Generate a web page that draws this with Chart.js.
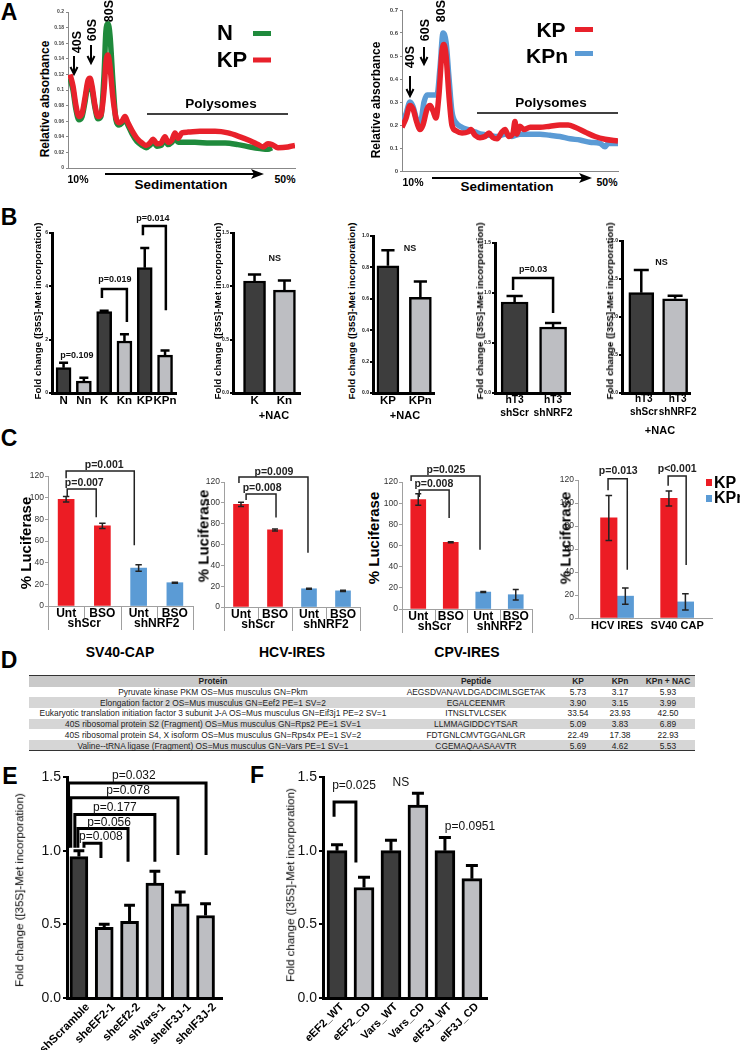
<!DOCTYPE html>
<html lang="en">
<head>
<meta charset="UTF-8">
<title>Translation figure</title>
<script src="https://cdn.jsdelivr.net/npm/chart.js"></script>
<style>
    body { margin: 0; background: #fff; font-family: "Liberation Sans", Arial, sans-serif; color: #000; }
    #fig { position: relative; width: 740px; height: 1050px; overflow: hidden; background: #fff; }
    #fig canvas { position: absolute; }
    .t { position: absolute; white-space: nowrap; line-height: 1; }
    .row { position: absolute; left: 29px; width: 666px; height: 10.7px; }
    svg { position: absolute; left: 0; top: 0; }
</style>
</head>
<body>
<div id="fig">
<svg width="740" height="1050">
    <!-- panel A arrows, lines and legend swatches -->
    <g stroke="#000" stroke-width="2" fill="none">
        <line x1="74" y1="56" x2="74" y2="73"/><polyline points="70.5,67 74,74 77.5,67"/>
        <line x1="91" y1="45" x2="91" y2="62"/><polyline points="87.5,56 91,63 94.5,56"/>
        <line x1="410" y1="76" x2="410" y2="95"/><polyline points="406.5,89 410,96 413.5,89"/>
        <line x1="424" y1="47" x2="424" y2="63"/><polyline points="420.5,57 424,64 427.5,57"/>
        <line x1="105" y1="174" x2="255" y2="174"/>
        <line x1="432" y1="178" x2="583" y2="178"/>
    </g>
    <polygon points="264,174 251,169 254,174 251,179" fill="#000"/>
    <polygon points="592,178 579,173 582,178 579,183" fill="#000"/>
    <line x1="147" y1="114" x2="288" y2="114" stroke="#000" stroke-width="1.5"/>
    <line x1="477" y1="113" x2="618" y2="113" stroke="#000" stroke-width="1.5"/>
    <rect x="253" y="31" width="18" height="5" fill="#1f8a3c"/>
    <rect x="253" y="57.5" width="18" height="5" fill="#e8212b"/>
    <rect x="575" y="27" width="18" height="5" fill="#e8212b"/>
    <rect x="575" y="51" width="18" height="5" fill="#5b9bd5"/>
    <rect x="706" y="479" width="6" height="7" fill="#ec1c24"/>
    <rect x="706" y="495" width="6" height="7" fill="#5b9bd5"/>
</svg>
</div>
<script>
// ---------- data ----------
// Panel A: polysome profiles, x = position along gradient (0-100), y = relative absorbance
const a1KpX = [0.9, 2.2, 3.5, 4.8, 6.2, 7.5, 8.8, 9.7, 10.6, 11.9, 13.2, 14.5, 15.9, 16.7, 17.6, 18.5, 19.8, 21.1, 22.5, 23.8, 25.1, 26.4, 28.2, 30.4, 32.6, 34.4, 36.1, 37.4, 39.2, 41, 42.7, 44.1, 45.8, 47.1, 48.5, 50.2, 52.9, 58.1, 64.8, 70.5, 75.8, 80.2, 83.7, 85.9, 88.1, 89.9, 92.5, 96.9, 100];
const a1KpY = [0.12, 0.105, 0.08, 0.066, 0.07, 0.09, 0.112, 0.115, 0.105, 0.08, 0.066, 0.068, 0.1, 0.135, 0.145, 0.13, 0.09, 0.065, 0.058, 0.06, 0.066, 0.058, 0.048, 0.038, 0.032, 0.029, 0.032, 0.037, 0.031, 0.032, 0.04, 0.033, 0.036, 0.045, 0.038, 0.045, 0.046, 0.047, 0.047, 0.045, 0.04, 0.035, 0.03, 0.027, 0.031, 0.03, 0.026, 0.027, 0.029];
const a1NX = [0.9, 2.2, 3.5, 4.8, 6.2, 7.5, 8.8, 9.7, 10.6, 11.9, 13.2, 14.5, 15.9, 16.7, 17.6, 18.5, 19.8, 21.1, 22.5, 23.8, 25.1, 26.4, 28.2, 30.4, 32.6, 34.4, 36.1, 37.4, 39.2, 41, 42.7, 44.1, 45.8, 47.1, 48.5, 50.2, 55.9, 62.6, 69.2, 74.9, 80.2, 84.6, 88.1, 89.9];
const a1NY = [0.115, 0.1, 0.075, 0.062, 0.066, 0.085, 0.108, 0.112, 0.1, 0.077, 0.063, 0.066, 0.12, 0.175, 0.185, 0.17, 0.11, 0.062, 0.055, 0.058, 0.063, 0.055, 0.044, 0.034, 0.029, 0.026, 0.029, 0.034, 0.028, 0.029, 0.036, 0.03, 0.033, 0.038, 0.033, 0.033, 0.033, 0.032, 0.032, 0.03, 0.027, 0.025, 0.024, 0.026];
const a2KpX = [0, 1.9, 3.7, 5.1, 6.9, 8.3, 9.7, 11.6, 13, 14.4, 15.7, 17.1, 18.5, 19.4, 20.4, 21.8, 23.1, 25, 27.8, 30.6, 31.9, 33.8, 36.1, 38.4, 40.3, 42.1, 44, 46.3, 47.7, 49.5, 51.4, 52.3, 53.2, 54.6, 56.5, 59.3, 63.9, 68.5, 73.1, 76.9, 80.1, 84.7, 89.4, 94, 100];
const a2KpY = [0.19, 0.23, 0.285, 0.27, 0.21, 0.18, 0.2, 0.27, 0.285, 0.26, 0.23, 0.33, 0.52, 0.55, 0.5, 0.32, 0.2, 0.175, 0.165, 0.17, 0.18, 0.155, 0.145, 0.15, 0.165, 0.145, 0.14, 0.17, 0.18, 0.15, 0.165, 0.215, 0.16, 0.195, 0.18, 0.19, 0.19, 0.195, 0.2, 0.2, 0.19, 0.17, 0.15, 0.138, 0.13];
const a2KpnX = [0, 1.9, 3.7, 5.1, 6.9, 8.3, 10.2, 11.6, 14.4, 16.2, 17.6, 19, 20.4, 21.8, 23.1, 25, 27.8, 30.6, 33.8, 37, 40.7, 44, 47.7, 50.9, 54.6, 59.3, 63.9, 68.5, 73.1, 77.8, 82.4, 87, 91.7, 94, 95.4, 100];
const a2KpnY = [0.2, 0.25, 0.3, 0.28, 0.22, 0.2, 0.3, 0.33, 0.33, 0.33, 0.45, 0.6, 0.56, 0.4, 0.26, 0.21, 0.19, 0.18, 0.17, 0.16, 0.155, 0.15, 0.16, 0.15, 0.16, 0.16, 0.16, 0.155, 0.15, 0.14, 0.135, 0.125, 0.12, 0.105, 0.12, 0.12];

// Panel B: fold change ([35S]-Met incorporation), mean and SEM
const b1Cats = ['N', 'Nn', 'K', 'Kn', 'KP', 'KPn'];
const b1Vals = [0.95, 0.45, 3.05, 1.95, 4.7, 1.42];
const b1Sem = [0.18, 0.12, 0.03, 0.25, 0.74, 0.17];
const b2Cats = ['K', 'Kn'];
const b2Vals = [1.05, 0.965];
const b2Sem = [0.06, 0.09];
const b3Cats = ['KP', 'KPn'];
const b3Vals = [0.81, 0.61];
const b3Sem = [0.1, 0.1];
const b4Cats = [['hT3', 'shScr'], ['hT3', 'shNRF2']];
const b4Vals = [0.91, 0.66];
const b4Sem = [0.06, 0.04];
const b5Cats = [['hT3', 'shScr'], ['hT3', 'shNRF2']];
const b5Vals = [1.32, 1.24];
const b5Sem = [0.3, 0.04];

// Panel C: % luciferase
const cCats = ['Unt', 'BSO', 'Unt', 'BSO'];
const c1Vals = [98.5, 74, 35, 21.5];
const c1Sem = [2.5, 2.5, 3, 0.5];
const c2Vals = [98.5, 74, 17.5, 15.5];
const c2Sem = [2, 1, 0.5, 0.5];
const c3Vals = [103.5, 63, 16, 13.5];
const c3Sem = [5.5, 0.5, 0.5, 5];
const c4Cats = ['HCV IRES', 'SV40 CAP'];
const c4Kp = [87, 104];
const c4KpSem = [19.5, 6.5];
const c4Kpn = [19, 14];
const c4KpnSem = [7, 7];

// Panel D: peptide table
const dProteins = ['Pyruvate kinase PKM OS=Mus musculus GN=Pkm',
    'Elongation factor 2 OS=Mus musculus GN=Eef2 PE=1 SV=2',
    'Eukaryotic translation initiation factor 3 subunit J-A OS=Mus musculus GN=Eif3j1 PE=2 SV=1',
    '40S ribosomal protein S2 (Fragment) OS=Mus musculus GN=Rps2 PE=1 SV=1',
    '40S ribosomal protein S4, X isoform OS=Mus musculus GN=Rps4x PE=1 SV=2',
    'Valine--tRNA ligase (Fragment) OS=Mus musculus GN=Vars PE=1 SV=1'];
const dPeptides = ['AEGSDVANAVLDGADCIMLSGETAK', 'EGALCEENMR', 'ITNSLTVLCSEK', 'LLMMAGIDDCYTSAR', 'FDTGNLCMVTGGANLGR', 'CGEMAQAASAAVTR'];
const dKP = ['5.73', '3.90', '33.54', '5.09', '22.49', '5.69'];
const dKPn = ['3.17', '3.15', '23.93', '3.83', '17.38', '4.62'];
const dKPnNac = ['5.93', '3.99', '42.50', '6.89', '22.93', '5.53'];

// Panels E, F
const eCats = ['shScramble', 'sheEF2-1', 'sheEf2-2', 'shVars-1', 'sheIF3J-1', 'sheIF3J-2'];
const eVals = [0.96, 0.48, 0.52, 0.78, 0.64, 0.56];
const eSem = [0.04, 0.02, 0.11, 0.08, 0.08, 0.08];
const fCats = ['eEF2_WT', 'eEF2_CD', 'Vars_WT', 'Vars_CD', 'eIF3J_WT', 'eIF3J_CD'];
const fVals = [1.0, 0.75, 1.0, 1.31, 1.0, 0.81];
const fSem = [0.04, 0.07, 0.07, 0.08, 0.09, 0.09];

// ---------- setup ----------
const FONT = '"Liberation Sans", Arial, sans-serif';
Chart.defaults.font.family = FONT;
Chart.defaults.animation = false;
Chart.defaults.responsive = false;
Chart.defaults.color = '#000';
Chart.defaults.plugins.legend.display = false;
Chart.defaults.plugins.tooltip.enabled = false;

const fig = document.getElementById('fig');
const DARK = '#3d3d3d', LIGHT = '#bdbec2', RED = '#ec1c24', BLUE = '#5b9bd5';

function label(x, y, s, css, rot, align) {
    const d = document.createElement('div');
    d.className = 't';
    d.textContent = s;
    d.style.cssText += css;
    d.style.left = x + 'px';
    d.style.top = y + 'px';
    const tx = align === 'l' ? '0' : '-50%';
    d.style.transform = 'translate(' + tx + ',-50%)' + (rot ? ' rotate(' + rot + 'deg)' : '');
    fig.appendChild(d);
}

// canvas whose chart area lands exactly on box
function canvasAt(box, pad) {
    const c = document.createElement('canvas');
    const w = box.r - box.l + pad.l + pad.r, h = box.b - box.t + pad.t + pad.b;
    c.width = w; c.height = h;
    c.style.left = (box.l - pad.l) + 'px';
    c.style.top = (box.t - pad.t) + 'px';
    c.style.width = w + 'px'; c.style.height = h + 'px';
    fig.appendChild(c);
    return c;
}
const fixX = h => s => { s.height = h; s.paddingLeft = 0; s.paddingRight = 0; };
const fixY = w => s => { s.width = w; s.paddingTop = 0; s.paddingBottom = 0; };

// error bars, brackets, p-values, category separators
const annot = {
    id: 'annot',
    afterDatasetsDraw(chart, args, o) {
        const ctx = chart.ctx, xs = chart.scales.x, ys = chart.scales.y;
        ctx.save();
        ctx.strokeStyle = o.color || '#000';
        chart.data.datasets.forEach((ds, di) => {
            if (!ds.err) return;
            const meta = chart.getDatasetMeta(di);
            meta.data.forEach((bar, i) => {
                const v = meta.controller.getParsed(i).y, e = ds.err[i];
                const top = ys.getPixelForValue(v + e);
                const bot = ys.getPixelForValue(o.twoSided ? v - e : v);
                const hw = bar.width * (o.cap || 0.3);
                ctx.lineWidth = o.errWidth || 2;
                ctx.beginPath();
                ctx.moveTo(bar.x, bot); ctx.lineTo(bar.x, top);
                ctx.moveTo(bar.x - hw, top); ctx.lineTo(bar.x + hw, top);
                if (o.twoSided) { ctx.moveTo(bar.x - hw, bot); ctx.lineTo(bar.x + hw, bot); }
                ctx.stroke();
            });
        });
        ctx.lineWidth = o.bracketWidth || 2;
        ctx.lineJoin = 'miter';
        (o.brackets || []).forEach(b => {
            const xa = xs.getPixelForValue(b.a), xb = xs.getPixelForValue(b.b), y = ys.getPixelForValue(b.y);
            ctx.beginPath();
            ctx.moveTo(xa, ys.getPixelForValue(b.ya));
            ctx.lineTo(xa, y); ctx.lineTo(xb, y);
            ctx.lineTo(xb, ys.getPixelForValue(b.yb));
            ctx.stroke();
        });
        ctx.fillStyle = o.noteColor || '#000';
        ctx.font = o.noteFont || 'bold 10px ' + FONT;
        ctx.textAlign = 'center';
        ctx.textBaseline = 'middle';
        (o.notes || []).forEach(n => ctx.fillText(n.t, xs.getPixelForValue(n.x), ys.getPixelForValue(n.y)));
        const bottom = chart.chartArea.bottom;
        ctx.strokeStyle = '#a0a0a0';
        ctx.lineWidth = 1;
        (o.seps || []).forEach(s => {
            const x = Math.round(xs.getPixelForValue(s[0])) + 0.5;
            ctx.beginPath(); ctx.moveTo(x, bottom); ctx.lineTo(x, bottom + s[1]); ctx.stroke();
        });
        ctx.fillStyle = '#000';
        ctx.font = 'bold 12px ' + FONT;
        (o.groups || []).forEach(g => ctx.fillText(g[1], xs.getPixelForValue(g[0]), bottom + 18));
        ctx.restore();
    }
};

// ---------- panel A ----------
function profile(box, pad, ymax, sets, tickSize) {
    new Chart(canvasAt(box, pad), {
        type: 'line',
        data: {
            datasets: sets.map(s => ({
                data: s.x.map((x, i) => ({ x: x, y: s.y[i] })),
                borderColor: s.color, borderWidth: 5.5, pointRadius: 0,
                cubicInterpolationMode: 'monotone', fill: false
            }))
        },
        options: {
            layout: { padding: { left: 0, top: pad.t, right: pad.r, bottom: 0 } },
            scales: {
                x: {
                    type: 'linear', min: 0, max: 100,
                    ticks: { display: false },
                    grid: { display: false, drawTicks: false },
                    border: { color: '#888', width: 1 },
                    afterFit: fixX(pad.b)
                },
                y: {
                    min: 0, max: ymax,
                    ticks: { stepSize: ymax > 0.5 ? 0.1 : 0.02, font: { size: tickSize, weight: 'bold' }, color: '#444', padding: 2,
                        callback: v => +v.toFixed(2) },
                    grid: { drawOnChartArea: false, tickLength: 2, color: '#888' },
                    border: { color: '#888', width: 1 },
                    afterFit: fixY(pad.l)
                }
            }
        }
    });
}

profile({ l: 68, t: 12, r: 295, b: 168 }, { l: 16, t: 6, r: 4, b: 3 }, 0.2,
    [{ x: a1KpX, y: a1KpY, color: '#e8212b' }, { x: a1NX, y: a1NY, color: '#1f8a3c' }], 5);
profile({ l: 402, t: 10, r: 618, b: 171 }, { l: 20, t: 6, r: 4, b: 3 }, 0.7,
    [{ x: a2KpX, y: a2KpY, color: '#e8212b' }, { x: a2KpnX, y: a2KpnY, color: '#5b9bd5' }], 6);

// ---------- GraphPad style bars (B, E, F) ----------
function prism(box, pad, o) {
    new Chart(canvasAt(box, pad), {
        type: 'bar',
        data: {
            datasets: [{
                data: o.vals.map((v, i) => ({ x: i, y: v })),
                backgroundColor: o.fill, borderColor: '#000', borderWidth: o.bw,
                barThickness: o.bar, err: o.sem
            }]
        },
        options: {
            layout: { padding: { left: 0, top: pad.t, right: pad.r, bottom: 0 } },
            plugins: {
                annot: { cap: 0.3, errWidth: o.bw, bracketWidth: o.bw, brackets: o.brackets, notes: o.notes, noteFont: o.noteFont, noteColor: '#111' }
            },
            scales: {
                x: {
                    type: 'linear', min: o.xmin, max: o.xmax, offset: false,
                    grid: { display: false, drawTicks: false },
                    border: { color: '#000', width: o.axw },
                    ticks: { stepSize: 1, includeBounds: false, autoSkip: false, maxRotation: o.rot, minRotation: o.rot,
                        padding: o.tpad, labelOffset: o.lofs || 0,
                        font: { size: o.xfs, weight: 'bold', lineHeight: 1.3 }, color: '#000',
                        callback: v => o.cats[v] },
                    afterFit: fixX(pad.b)
                },
                y: {
                    min: 0, max: o.ymax,
                    ticks: { stepSize: o.step, font: { size: o.yfs, weight: o.yfw }, color: '#111', padding: o.ypad,
                        callback: v => v.toFixed(o.dec) },
                    grid: { drawOnChartArea: false, tickLength: o.tl, color: '#000', lineWidth: 2 },
                    border: { color: '#000', width: o.axw },
                    afterFit: fixY(pad.l)
                }
            }
        },
        plugins: [annot]
    });
}

const bBase = { bw: 2.5, axw: 3, rot: 0, tpad: 0, xfs: 11.5, yfs: 5, yfw: 'bold', ypad: 1, tl: 3, noteFont: 'bold 9px ' + FONT };
const bPad = { l: 14, t: 22, r: 14, b: 40 };

prism({ l: 52, t: 233, r: 176, b: 393 }, bPad, Object.assign({}, bBase, {
    cats: b1Cats, vals: b1Vals, sem: b1Sem, fill: [DARK, LIGHT, DARK, LIGHT, DARK, LIGHT],
    xmin: -0.57, xmax: 5.54, ymax: 6, step: 2, dec: 0, bar: 15,
    brackets: [{ a: 1.89, b: 3.12, y: 3.9, ya: 3.56, yb: 2.66 }, { a: 3.91, b: 5.04, y: 6.26, ya: 5.92, yb: 3.1 }],
    notes: [{ x: 0.66, y: 1.39, t: 'p=0.109' }, { x: 2.53, y: 4.26, t: 'p=0.019' }, { x: 4.4, y: 6.53, t: 'p=0.014' }]
}));
prism({ l: 233, t: 233, r: 300, b: 393 }, bPad, Object.assign({}, bBase, {
    cats: b2Cats, vals: b2Vals, sem: b2Sem, fill: [DARK, LIGHT],
    xmin: -0.72, xmax: 1.52, ymax: 1.5, step: 0.5, dec: 1, bar: 22,
    notes: [{ x: 0.68, y: 1.26, t: 'NS' }]
}));
prism({ l: 373, t: 236, r: 434, b: 393 }, bPad, Object.assign({}, bBase, {
    cats: b3Cats, vals: b3Vals, sem: b3Sem, fill: [DARK, LIGHT],
    xmin: -0.46, xmax: 1.42, ymax: 1, step: 0.2, dec: 1, bar: 22,
    notes: [{ x: 0.68, y: 0.92, t: 'NS' }]
}));
prism({ l: 495, t: 243, r: 570, b: 393 }, bPad, Object.assign({}, bBase, {
    cats: b4Cats, vals: b4Vals, sem: b4Sem, fill: [DARK, LIGHT], xfs: 10.3,
    xmin: -0.51, xmax: 1.44, ymax: 1.5, step: 0.5, dec: 1, bar: 27,
    brackets: [{ a: -0.04, b: 1.0, y: 1.15, ya: 1.03, yb: 0.8 }],
    notes: [{ x: 0.48, y: 1.23, t: 'p=0.03' }]
}));
prism({ l: 622, t: 241, r: 690, b: 393 }, bPad, Object.assign({}, bBase, {
    cats: b5Cats, vals: b5Vals, sem: b5Sem, fill: [DARK, LIGHT], xfs: 10, lofs: 2.5,
    xmin: -0.57, xmax: 1.44, ymax: 2, step: 0.5, dec: 1, bar: 25,
    notes: [{ x: 0.6, y: 1.72, t: 'NS' }]
}));

const efBase = { bw: 3, axw: 3, rot: 45, tpad: 2, xfs: 12, yfs: 14, yfw: 'normal', ypad: 2, tl: 4, dec: 1, ymax: 1.5, step: 0.5, noteFont: '12px ' + FONT };
prism({ l: 67, t: 777, r: 222, b: 998 }, { l: 45, t: 15, r: 5, b: 52 }, Object.assign({}, efBase, {
    cats: eCats, vals: eVals, sem: eSem, fill: [DARK, LIGHT, LIGHT, LIGHT, LIGHT, LIGHT],
    xmin: -0.47, xmax: 5.65, bar: 18, lofs: 9, xfs: 11.5,
    brackets: [
        { a: 0.2, b: 0.87, y: 1.05, ya: 1.02, yb: 0.95 },
        { a: -0.04, b: 1.94, y: 1.15, ya: 1.02, yb: 0.925 },
        { a: -0.16, b: 3.0, y: 1.245, ya: 1.02, yb: 0.925 },
        { a: -0.32, b: 3.91, y: 1.36, ya: 1.02, yb: 0.97 },
        { a: -0.41, b: 5.02, y: 1.46, ya: 1.02, yb: 0.97 }
    ],
    notes: [
        { x: 2.17, y: 1.51, t: 'p=0.032' }, { x: 1.94, y: 1.41, t: 'p=0.078' }, { x: 1.42, y: 1.29, t: 'p=0.177' },
        { x: 1.19, y: 1.19, t: 'p=0.056' }, { x: 0.87, y: 1.095, t: 'p=0.008' }
    ]
}));
prism({ l: 323, t: 777, r: 487, b: 998 }, { l: 40, t: 15, r: 28, b: 52 }, Object.assign({}, efBase, {
    cats: fCats, vals: fVals, sem: fSem, fill: [DARK, LIGHT, DARK, LIGHT, DARK, LIGHT],
    xmin: -0.52, xmax: 5.56, bar: 20, xfs: 11, lofs: 5,
    brackets: [{ a: -0.11, b: 0.7, y: 1.33, ya: 1.23, yb: 0.92 }],
    notes: [{ x: 0.63, y: 1.44, t: 'p=0.025' }, { x: 2.37, y: 1.46, t: 'NS' }, { x: 4.93, y: 1.16, t: 'p=0.0951' }]
}));

// ---------- Excel style bars (C) ----------
function excel(box, pad, o) {
    const linear = o.xmin !== undefined;
    const x = {
        grid: { display: false, drawTicks: false },
        border: { color: '#a0a0a0', width: 1 },
        ticks: { font: { size: o.xfs, weight: 'bold' }, color: '#000', padding: o.tpad, autoSkip: false, maxRotation: 0 },
        afterFit: fixX(pad.b)
    };
    if (linear) {
        Object.assign(x, { type: 'linear', min: o.xmin, max: o.xmax, offset: false });
        Object.assign(x.ticks, { stepSize: 1, includeBounds: false, callback: v => o.cats[v] });
    }
    new Chart(canvasAt(box, pad), {
        type: 'bar',
        data: {
            labels: linear ? undefined : o.cats,
            datasets: o.sets.map(s => ({
                data: linear ? s.vals.map((v, i) => ({ x: i, y: v })) : s.vals,
                backgroundColor: s.color, barThickness: o.bar, err: s.sem
            }))
        },
        options: {
            layout: { padding: { left: 0, top: pad.t, right: pad.r, bottom: 0 } },
            plugins: {
                annot: { twoSided: true, cap: 0.2, errWidth: 1.5, bracketWidth: 1.5, color: '#222',
                    brackets: o.brackets, notes: o.notes, noteFont: 'bold 10.5px ' + FONT, noteColor: '#222',
                    seps: o.seps, groups: o.groups }
            },
            scales: {
                x: x,
                y: {
                    min: 0, max: 120,
                    ticks: { stepSize: 20, font: { size: 8.5 }, color: '#333', padding: 1 },
                    grid: { drawOnChartArea: false, tickLength: 3, color: '#a0a0a0' },
                    border: { color: '#a0a0a0', width: 1 },
                    afterFit: fixY(pad.l)
                }
            }
        },
        plugins: [annot]
    });
}

const cPad = { l: 20, t: 32, r: 4, b: 30 };
const cSeps = [[-0.5, 24], [0.5, 12], [1.5, 24], [2.5, 12], [3.5, 24]];
const cGroups = [[0.5, 'shScr'], [2.5, 'shNRF2']];
excel({ l: 48, t: 476, r: 193, b: 606 }, cPad, {
    cats: cCats, bar: 16, xfs: 12, tpad: 0, seps: cSeps, groups: cGroups,
    sets: [{ vals: c1Vals, sem: c1Sem, color: [RED, RED, BLUE, BLUE] }],
    brackets: [{ a: 0.03, b: 0.83, y: 108, ya: 101.5, yb: 82 }, { a: 0, b: 1.88, y: 124.6, ya: 118, yb: 56 }],
    notes: [{ x: 0.5, y: 113.6, t: 'p=0.007' }, { x: 1.05, y: 130, t: 'p=0.001' }]
});
excel({ l: 224, t: 482, r: 360, b: 607 }, cPad, {
    cats: cCats, bar: 15, xfs: 12, tpad: 0, seps: cSeps, groups: cGroups,
    sets: [{ vals: c2Vals, sem: c2Sem, color: [RED, RED, BLUE, BLUE] }],
    brackets: [{ a: 0.15, b: 1.03, y: 108.5, ya: 102.7, yb: 86 }, { a: -0.06, b: 1.97, y: 124.8, ya: 119, yb: 52 }],
    notes: [{ x: 0.62, y: 114, t: 'p=0.008' }, { x: 0.97, y: 129.6, t: 'p=0.009' }]
});
excel({ l: 402, t: 482, r: 532, b: 609 }, cPad, {
    cats: cCats, bar: 15, xfs: 12, tpad: 0, seps: cSeps, groups: cGroups,
    sets: [{ vals: c3Vals, sem: c3Sem, color: [RED, RED, BLUE, BLUE] }],
    brackets: [{ a: 0.03, b: 0.95, y: 112.5, ya: 105.8, yb: 86 }, { a: -0.22, b: 1.9, y: 125.7, ya: 121, yb: 56 }],
    notes: [{ x: 0.48, y: 118, t: 'p=0.008' }, { x: 0.85, y: 131, t: 'p=0.025' }]
});
excel({ l: 578, t: 480, r: 712, b: 618 }, cPad, {
    cats: c4Cats, bar: 16.5, xfs: 11, tpad: 1, xmin: -0.65, xmax: 1.58,
    sets: [{ vals: c4Kp, sem: c4KpSem, color: RED }, { vals: c4Kpn, sem: c4KpnSem, color: BLUE }],
    brackets: [{ a: -0.15, b: 0.17, y: 121, ya: 111, yb: 42 }, { a: 0.85, b: 1.15, y: 123.5, ya: 115, yb: 46 }],
    notes: [{ x: 0.02, y: 127.8, t: 'p=0.013' }, { x: 1.0, y: 129.6, t: 'p<0.001' }]
});

// ---------- panel D table ----------
const rowTop = 676, rowH = 10.7;
for (let r = 0; r < 7; r++) {
    if (r % 2 === 0) {
        const d = document.createElement('div');
        d.className = 'row';
        d.style.top = (rowTop + r * rowH) + 'px';
        d.style.background = r === 0 ? '#c9c9c9' : '#d6d6d6';
        fig.appendChild(d);
    }
}
[rowTop, rowTop + 7 * rowH].forEach(y => {
    const d = document.createElement('div');
    d.className = 'row';
    d.style.cssText += 'height:0;border-top:1.5px solid #333;top:' + (y - 0.75) + 'px';
    fig.appendChild(d);
});
const dCols = [213, 476, 578, 620, 668];
const tCss = 'font-size:8.4px;color:#222;';
['Protein', 'Peptide', 'KP', 'KPn', 'KPn + NAC'].forEach((h, c) => label(dCols[c], rowTop + rowH / 2, h, tCss + 'font-weight:bold;'));
for (let r = 0; r < dProteins.length; r++) {
    const y = rowTop + (r + 1.5) * rowH;
    [dProteins[r], dPeptides[r], dKP[r], dKPn[r], dKPnNac[r]].forEach((s, c) => label(dCols[c], y, s, tCss));
}

// ---------- texts ----------
const L = 'font-weight:bold;font-size:23px;';
label(9, 12, 'A', L); label(9, 217, 'B', L); label(9, 438, 'C', L);
label(9, 660, 'D', L); label(10, 776, 'E', L); label(257, 775, 'F', L);

const yA = 'font-weight:bold;font-size:12px;';
label(45, 99, 'Relative absorbance', yA, -90);
label(376, 100, 'Relative absorbance', yA, -90);
const sLab = 'font-weight:bold;font-size:12.5px;';
label(77, 42, '40S', sLab, -90); label(92, 30, '60S', sLab, -90); label(109, 11, '80S', sLab, -90);
label(410, 57, '40S', sLab, -90); label(425, 30, '60S', sLab, -90); label(441, 11, '80S', sLab, -90);
const pLab = 'font-weight:bold;font-size:13.5px;';
label(221, 104, 'Polysomes', pLab); label(551, 103, 'Polysomes', pLab);
label(181, 185, 'Sedimentation', pLab); label(507, 187, 'Sedimentation', pLab);
const pct = 'font-weight:bold;font-size:10.5px;';
label(78, 179, '10%', pct); label(285, 179, '50%', pct); label(413, 182, '10%', pct); label(607, 182, '50%', pct);
label(225, 33, 'N', 'font-weight:bold;font-size:22px;'); label(232, 60, 'KP', 'font-weight:bold;font-size:22px;');
label(551, 29, 'KP', 'font-weight:bold;font-size:21px;'); label(547, 55, 'KPn', 'font-weight:bold;font-size:21px;');

const yB = 'font-weight:bold;font-size:9.8px;';
[38, 218, 352, 480, 610].forEach(x => label(x, 311, 'Fold change ([35S]-Met incorporation)', yB, -90));
const nac = 'font-weight:bold;font-size:11px;';
label(274, 415, '+NAC', nac); label(405, 415, '+NAC', nac); label(660, 430, '+NAC', nac);

const yC = 'font-weight:bold;font-size:15px;';
label(25, 543, '% Luciferase', yC, -90); label(203, 536, '% Luciferase', yC, -90);
label(373, 538, '% Luciferase', yC, -90); label(565, 538, '% Luciferase', yC, -90);
const cT = 'font-weight:bold;font-size:14px;';
label(120, 652, 'SV40-CAP', cT); label(292, 652, 'HCV-IRES', cT); label(467, 652, 'CPV-IRES', cT);
label(714, 483, 'KP', 'font-weight:bold;font-size:16px;', 0, 'l');
label(714, 498, 'KPn', 'font-weight:bold;font-size:16px;', 0, 'l');

const yE = 'font-size:11.5px;';
label(20, 890, 'Fold change ([35S]-Met incorporation)', yE, -90);
label(291, 885, 'Fold change ([35S]-Met incorporation)', yE, -90);
</script>
</body>
</html>
